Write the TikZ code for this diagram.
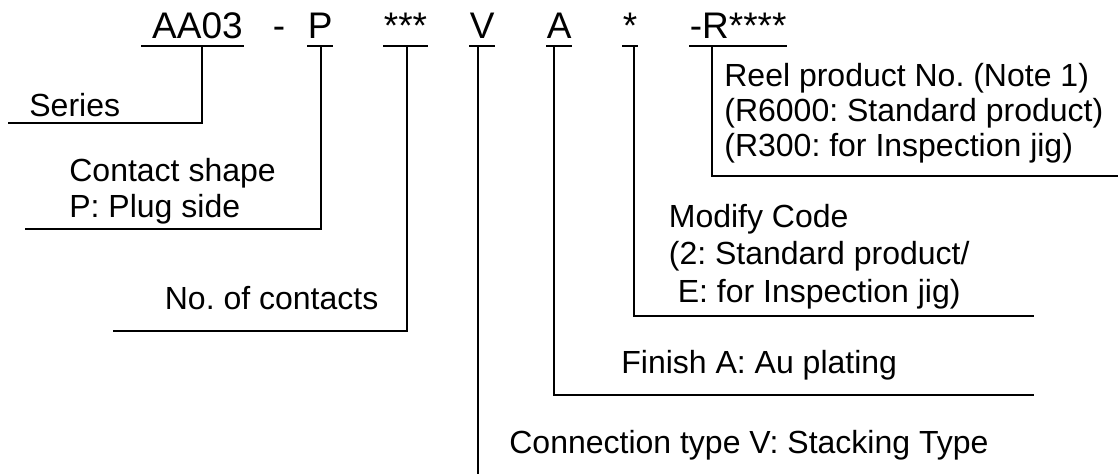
\documentclass[tikz,border=0pt]{standalone}
\usepackage{fontspec}
\setmainfont{Liberation Sans}
\frenchspacing
\begin{document}
\begin{tikzpicture}[x=0.75pt,y=-0.75pt,line width=1.3pt,
  code/.style={font=\fontsize{27.75}{33}\selectfont, inner xsep=0pt, inner ysep=5.25pt, text depth=0pt, anchor=south west},
  plain/.style={font=\fontsize{27.75}{33}\selectfont, inner sep=0pt, anchor=base west},
  lbl/.style={font=\fontsize{24}{27}\selectfont, inner sep=0pt, anchor=base west, align=left},
  conn/.style={draw=black, line width=1.3pt}]
\useasboundingbox (0,0) rectangle (1118,474);

% code parts
\node[code] (c1) at (141,46) {\ AA03};
\node[plain] (cd) at (272,39) {-};
\node[code] (c2) at (307,46) {P};
\node[code] (c3) at (383,46) {***};
\node[code] (c4) at (469,46) {V};
\node[code] (c5) at (546,46) {A};
\node[code] (c6) at (622,46) {*\ };
\node[code] (c7) at (689,46) {-R****};

% labels (anchor = baseline of the last line)
\node[lbl] (l1) at (28.5,117) {Series};
\node[lbl, font=\fontsize{24}{27}\selectfont] (l2) at (68.5,218) {Contact shape\\P: Plug side};
\node[lbl] (l3) at (164,310) {No. of contacts};
\node[lbl] (l4) at (508.5,453) {Connection type V: Stacking Type};
\node[lbl] (l5) at (620.5,373) {Finish A: Au plating};
\node[lbl, font=\fontsize{24}{28.1}\selectfont] (l6) at (668,302) {Modify Code\\(2: Standard product/\\\ E: for Inspection jig)};
\node[lbl, font=\fontsize{24}{26.25}\selectfont] (l7) at (723.5,157) {Reel product No. (Note 1)\\(R6000: Standard product)\\(R300: for Inspection jig)};

% corner coordinates
\coordinate (k1) at (202,123); \coordinate (e1) at (8,123);
\coordinate (k2) at (321,229); \coordinate (e2) at (25,229);
\coordinate (k3) at (407,331); \coordinate (e3) at (113,331);
\coordinate (k4) at (478,476);
\coordinate (k5) at (554,395); \coordinate (e5) at (1034,395);
\coordinate (k6) at (634,316); \coordinate (e6) at (1034,316);
\coordinate (k7) at (712,176); \coordinate (e7) at (1120,176);

% underlines
\foreach \n in {c1,c2,c3,c4,c5,c6,c7}
  \draw[conn] (\n.south west) -- (\n.south east);

% connectors
\draw[conn] (c1.south -| k1) -- (k1) -- (e1);
\draw[conn] (c2.south -| k2) -- (k2) -- (e2);
\draw[conn] (c3.south -| k3) -- (k3) -- (e3);
\draw[conn] (c4.south -| k4) -- (k4);
\draw[conn] (c5.south -| k5) -- (k5) -- (e5);
\draw[conn] (c6.south -| k6) -- (k6) -- (e6);
\draw[conn] (c7.south -| k7) -- (k7) -- (e7);
\end{tikzpicture}
\end{document}
